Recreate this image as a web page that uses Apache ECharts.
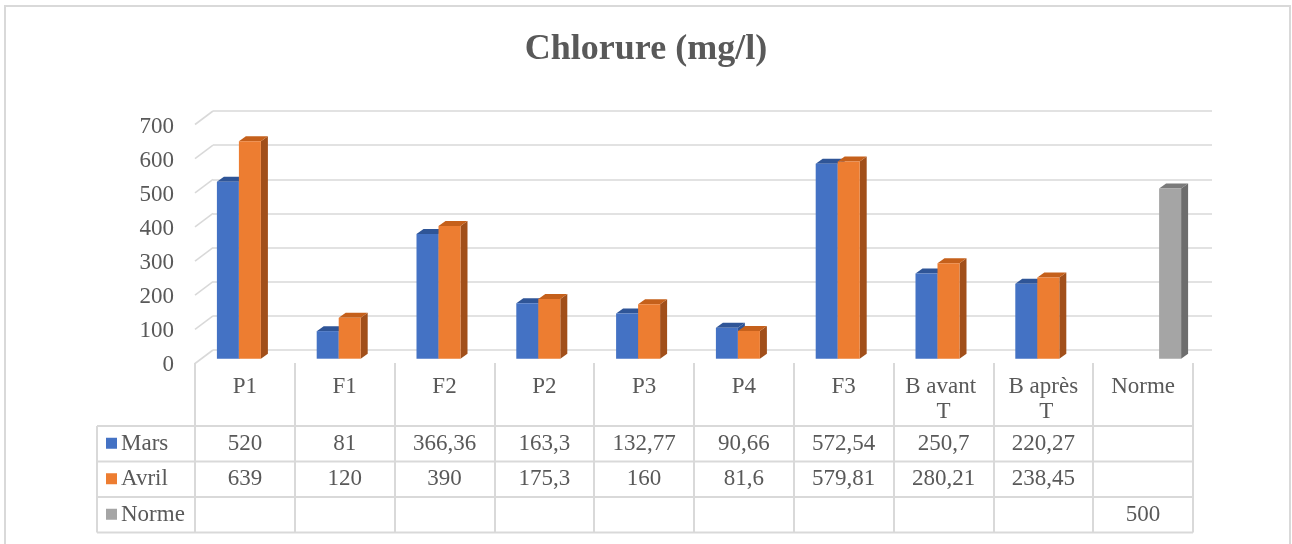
<!DOCTYPE html>
<html>
<head>
<meta charset="utf-8">
<script src="https://cdn.jsdelivr.net/npm/echarts@6/dist/echarts.min.js"></script>
<style>
  html, body { margin: 0; padding: 0; background: #fff; }
  #chart { width: 1292px; height: 544px; }
</style>
</head>
<body>
<div id="chart"></div>
<script>
// données
const categories = ['P1', 'F1', 'F2', 'P2', 'P3', 'P4', 'F3', 'B avant T', 'B après T', 'Norme'];
const mars = [520, 81, 366.36, 163.3, 132.77, 90.66, 572.54, 250.7, 220.27, null];
const avril = [639, 120, 390, 175.3, 160, 81.6, 579.81, 280.21, 238.45, null];
const norme = [null, null, null, null, null, null, null, null, null, 500];
const yTicks = [0, 100, 200, 300, 400, 500, 600, 700];
const seriesNames = ['Mars', 'Avril', 'Norme'];

const FONT = 'Liberation Serif, Times New Roman, serif';
const TXT = '#595959';
const LINE = '#d9d9d9';

// couleurs face / dessus / côté
const palette = [
  { front: '#4472c4', top: '#2f5597', side: '#2f5597' },
  { front: '#ed7d31', top: '#c5601b', side: '#a14f1a' },
  { front: '#a5a5a5', top: '#7b7b7b', side: '#6d6d6d' },
];

// table : une ligne d'en-tête puis trois lignes de valeurs
const tableTop = 363;
const headerH = 63;
const rowH = 35.5;
const tableLeft = 97;
const tableRight = 1193;
const rows = [mars, avril, norme];

const fmt = v => String(v).replace('.', ',');

const chart = echarts.init(document.getElementById('chart'));

function makeBox(slot, col) {
  return function (params, api) {
    const v = api.value(1);
    if (v == null || isNaN(v)) return;
    const i = api.value(0);
    const bw = 22;
    const dx = 7, dy = -5;
    const center = api.coord([i, 0]);
    const top = api.coord([i, v])[1];
    const bottom = center[1];
    const x0 = center[0] - 33 + slot * bw;
    const x1 = x0 + bw;
    return {
      type: 'group',
      children: [
        {
          type: 'polygon',
          shape: { points: [[x1, top], [x1 + dx, top + dy], [x1 + dx, bottom + dy], [x1, bottom]] },
          style: { fill: col.side },
        },
        {
          type: 'polygon',
          shape: { points: [[x0, top], [x0 + dx, top + dy], [x1 + dx, top + dy], [x1, top]] },
          style: { fill: col.top },
        },
        {
          type: 'rect',
          shape: { x: x0, y: top, width: bw, height: bottom - top },
          style: { fill: col.front },
        },
      ],
    };
  };
}

function toPairs(arr) {
  return arr.map((v, i) => [i, v]);
}

const hidden = { show: false };

const graphics = [
  {
    type: 'rect',
    shape: { x: 5, y: 6, width: 1285, height: 600 },
    style: { fill: 'none', stroke: LINE, lineWidth: 2 },
    silent: true,
  },
  {
    type: 'line',
    shape: { x1: tableLeft, y1: tableTop + headerH, x2: tableLeft, y2: tableTop + headerH + rowH * 3 },
    style: { stroke: LINE, lineWidth: 2 },
  },
];
for (let r = 0; r <= 3; r++) {
  const y = tableTop + headerH + rowH * r;
  graphics.push({
    type: 'line',
    shape: { x1: tableLeft, y1: y, x2: tableRight, y2: y },
    style: { stroke: LINE, lineWidth: 2 },
  });
}
seriesNames.forEach((name, r) => {
  const cy = tableTop + headerH + rowH * r + rowH / 2;
  graphics.push({
    type: 'rect',
    shape: { x: 106, y: cy - 6, width: 11, height: 11 },
    style: { fill: palette[r].front },
  });
  graphics.push({
    type: 'text',
    style: { text: name, x: 121, y: cy, verticalAlign: 'middle', fill: TXT, font: '23px ' + FONT },
  });
});

chart.setOption({
  animation: false,
  backgroundColor: '#fff',
  title: {
    text: 'Chlorure (mg/l)',
    left: 'center',
    top: 27,
    textStyle: { fontFamily: FONT, fontWeight: 'bold', fontSize: 36, color: TXT },
  },
  graphic: graphics,
  grid: [
    // paroi du fond
    { left: 213, right: 1292 - 1212, top: 111, bottom: 544 - 350, containLabel: false, outerBoundsMode: 'none' },
    // plan avant (graduations)
    { left: 195, right: 1292 - 1193, top: 127, bottom: 544 - 365, containLabel: false, outerBoundsMode: 'none' },
    // plan des barres
    { left: 200, right: 1292 - 1198, top: 120.5, bottom: 544 - 358.7, containLabel: false, outerBoundsMode: 'none' },
    // table de données
    { left: 195, right: 1292 - tableRight, top: tableTop, bottom: 544 - (tableTop + headerH + rowH * 3), containLabel: false, outerBoundsMode: 'none' },
  ],
  xAxis: [
    { gridIndex: 0, type: 'category', data: categories, show: false },
    { gridIndex: 1, type: 'category', data: categories, show: false },
    { gridIndex: 2, type: 'category', data: categories, show: false },
    {
      gridIndex: 3, type: 'category', data: categories,
      axisLine: hidden, axisTick: hidden, axisLabel: hidden,
      splitLine: { show: true, interval: 0, lineStyle: { color: LINE, width: 2 } },
    },
  ],
  yAxis: [
    {
      gridIndex: 0, type: 'value', min: 0, max: 700, interval: 100,
      axisLine: hidden, axisTick: hidden, axisLabel: hidden,
      splitLine: { show: true, lineStyle: { color: LINE, width: 1.6 } },
    },
    {
      gridIndex: 1, type: 'value', min: 0, max: 700, interval: 100,
      axisLine: hidden, axisTick: hidden, splitLine: hidden,
      axisLabel: { margin: 21, color: TXT, fontSize: 23, fontFamily: FONT },
    },
    { gridIndex: 2, type: 'value', min: 0, max: 700, interval: 100, show: false, splitLine: hidden },
    { gridIndex: 3, type: 'value', min: 0, max: 1, show: false, splitLine: hidden },
  ],
  series: [
    {
      // diagonales du côté gauche
      type: 'custom', xAxisIndex: 0, yAxisIndex: 0, silent: true,
      data: yTicks.map(v => [0, v]),
      encode: { x: 0, y: 1 },
      renderItem(params, api) {
        const y = api.coord([0, api.value(1)])[1];
        const x = params.coordSys.x;
        return {
          type: 'line',
          shape: { x1: x, y1: y, x2: x - 18, y2: y + 13.5 },
          style: { stroke: LINE, lineWidth: 1.6 },
        };
      },
    },
    {
      name: 'Mars', type: 'custom', xAxisIndex: 2, yAxisIndex: 2,
      data: toPairs(mars), encode: { x: 0, y: 1 },
      renderItem: makeBox(0, palette[0]),
    },
    {
      name: 'Avril', type: 'custom', xAxisIndex: 2, yAxisIndex: 2,
      data: toPairs(avril), encode: { x: 0, y: 1 },
      renderItem: makeBox(1, palette[1]),
    },
    {
      name: 'Norme', type: 'custom', xAxisIndex: 2, yAxisIndex: 2,
      data: toPairs(norme), encode: { x: 0, y: 1 },
      renderItem: makeBox(2, palette[2]),
    },
    {
      // cellules de la table
      type: 'custom', xAxisIndex: 3, yAxisIndex: 3, silent: true,
      data: categories.map((c, i) => [i, 0]),
      encode: { x: 0, y: 1 },
      renderItem(params, api) {
        const i = api.value(0);
        const cx = api.coord([i, 0])[0];
        const top = params.coordSys.y;
        const children = [{
          type: 'text',
          style: {
            text: categories[i], x: cx, y: top + 11, align: 'center', verticalAlign: 'top',
            width: 86, overflow: 'break', lineHeight: 25,
            fill: TXT, font: '23px ' + FONT,
          },
        }];
        rows.forEach((r, ri) => {
          if (r[i] == null) return;
          children.push({
            type: 'text',
            style: {
              text: fmt(r[i]), x: cx, y: top + headerH + rowH * ri + rowH / 2,
              align: 'center', verticalAlign: 'middle', fill: TXT, font: '23px ' + FONT,
            },
          });
        });
        return { type: 'group', children };
      },
    },
  ],
});
</script>
</body>
</html>
